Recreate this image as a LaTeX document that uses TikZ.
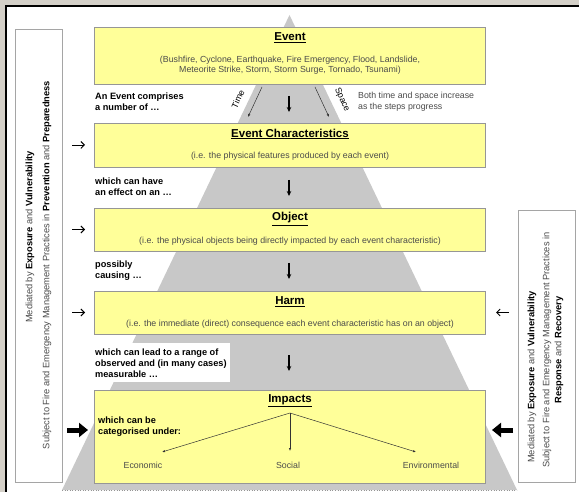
\documentclass[tikz,border=0pt]{standalone}
\usepackage{fontspec}
\setmainfont{Liberation Sans}
\usetikzlibrary{arrows.meta}
\definecolor{winbg}{RGB}{212,208,200}
\definecolor{pyrgray}{RGB}{200,200,200}
\definecolor{boxyellow}{RGB}{255,255,153}
\definecolor{boxedge}{RGB}{150,150,150}
\definecolor{sideedge}{RGB}{165,165,165}
\definecolor{softtext}{RGB}{75,75,75}
\begin{document}
\begin{tikzpicture}[x=1pt,y=-1pt,
  stage/.style={draw=boxedge, line width=0.7pt, fill=boxyellow, anchor=north west, inner sep=0pt, minimum width=391pt},
  side/.style={draw=sideedge, line width=0.7pt, fill=white, anchor=north west, inner sep=0pt},
  title/.style={font=\fontsize{11.5}{13}\selectfont\bfseries, inner sep=0pt},
  sub/.style={font=\fontsize{8.8}{10.5}\selectfont, text=softtext, align=center, inner sep=0pt},
  note/.style={font=\fontsize{9.2}{11}\selectfont\bfseries, align=left, anchor=west, inner sep=0pt},
  plain/.style={font=\fontsize{8.8}{11}\selectfont, text=softtext, inner sep=0pt},
  sidetext/.style={font=\fontsize{9.3}{10}\selectfont, text=softtext, rotate=90, inner sep=0pt},
  flow/.style={line width=1.3pt, -{Stealth[length=5pt,width=4.5pt]}},
  thinarrow/.style={line width=0.5pt, draw=black!80, -{Latex[length=3pt,width=2.4pt]}},
  sidearrow/.style={line width=0.9pt, -{Straight Barb[length=3.5pt,width=7pt]}},
  bigarrow/.style={line width=5pt, -{Triangle[length=9pt,width=14pt]}},
]
\useasboundingbox (0,0) rectangle (579,492);
% window background
\fill[winbg] (0,0) rectangle (579,492);
\fill[white] (6,6) rectangle (579,492);
\draw[line width=2pt] (6,492) -- (6,6) -- (579,6);

% pyramid
\fill[pyrgray] (289.5,15) -- (517,490) -- (62,490) -- cycle;
\draw[dotted, boxedge, line width=0.6pt] (62,490) -- (517,490);

% side panels
\node[side, minimum width=47pt, minimum height=453pt] (leftpanel) at (15,29) {};
\node[side, minimum width=57pt, minimum height=272pt] (rightpanel) at (518,210) {};

% stage boxes
\node[stage, minimum height=57pt] (event) at (94,27) {};
\node[stage, minimum height=44pt] (chars) at (94,123) {};
\node[stage, minimum height=43pt] (object) at (94,208) {};
\node[stage, minimum height=43pt] (harm) at (94,291) {};
\node[stage, minimum height=93pt] (impacts) at (94,390) {};
\node[fill=white, anchor=north west, minimum width=138pt, minimum height=39pt, inner sep=0pt] (leadbg) at (92,343) {};

% titles and subtitles
\node[title] (eventT) at (290,38) {\underline{Event}};
\node[sub] (eventS) at (290,65) {(Bushfire, Cyclone, Earthquake, Fire Emergency, Flood, Landslide,\\Meteorite Strike, Storm, Storm Surge, Tornado, Tsunami)};
\node[title] (charsT) at (290,134) {\underline{Event Characteristics}};
\node[sub] (charsS) at (290,156) {(i.e. the physical features produced by each event)};
\node[title] (objectT) at (290,219) {\underline{Object}};
\node[sub] (objectS) at (290,241) {(i.e. the physical objects being directly impacted by each event characteristic)};
\node[title] (harmT) at (290,302) {\underline{Harm}};
\node[sub] (harmS) at (290,324) {(i.e. the immediate (direct) consequence each event characteristic has on an object)};
\node[title] (impactsT) at (290,401) {\underline{Impacts}};

% notes in the gaps
\node[note] (n1) at (95,102) {An Event comprises\\a number of \dots};
\node[note] (n2) at (95,186.5) {which can have\\an effect on an \dots};
\node[note] (n3) at (95,270.5) {possibly\\causing \dots};
\node[note] (n4) at (95,363) {which can lead to a range of\\observed and (in many cases)\\measurable \dots};
\node[note] (n5) at (98,426.5) {which can be\\categorised under:};
\node[plain, anchor=west, align=left] (both) at (358,102) {Both time and space increase\\as the steps progress};

% time / space
\coordinate (time1) at (262,87); \coordinate (time2) at (248,117);
\coordinate (space1) at (315,87); \coordinate (space2) at (329,117);
\draw[thinarrow] (time1) -- (time2);
\draw[thinarrow] (space1) -- (space2);
\node[plain, text=black, rotate=65] (timeL) at (238,99) {Time};
\node[plain, text=black, rotate=-65] (spaceL) at (342,100) {Space};

% flow arrows
\coordinate (f1a) at (289,96);  \coordinate (f1b) at (289,112);
\coordinate (f2a) at (289,180); \coordinate (f2b) at (289,196);
\coordinate (f3a) at (289,263); \coordinate (f3b) at (289,279);
\coordinate (f4a) at (289,355); \coordinate (f4b) at (289,371);
\draw[flow] (f1a) -- (f1b);
\draw[flow] (f2a) -- (f2b);
\draw[flow] (f3a) -- (f3b);
\draw[flow] (f4a) -- (f4b);

% impacts categories
\coordinate (hub) at (290,413);
\coordinate (ecoEnd) at (162,452);
\coordinate (socEnd) at (290,451);
\coordinate (envEnd) at (416,452);
\node[plain] (eco) at (143,465) {Economic};
\node[plain] (soc) at (288,465) {Social};
\node[plain] (env) at (431,465) {Environmental};
\draw[thinarrow] (hub) -- (ecoEnd);
\draw[thinarrow] (hub) -- (socEnd);
\draw[thinarrow] (hub) -- (envEnd);

% side arrows
\coordinate (la1) at (72,145); \coordinate (lb1) at (85,145);
\coordinate (la2) at (72,229.5);   \coordinate (lb2) at (85,229.5);
\coordinate (la3) at (72,312.5);   \coordinate (lb3) at (85,312.5);
\coordinate (ra3) at (509,312.5);  \coordinate (rb3) at (496,312.5);
\draw[sidearrow] (la1) -- (lb1);
\draw[sidearrow] (la2) -- (lb2);
\draw[sidearrow] (la3) -- (lb3);
\draw[sidearrow] (ra3) -- (rb3);
\coordinate (bl1) at (67,430); \coordinate (bl2) at (88,430);
\coordinate (br1) at (513,430); \coordinate (br2) at (492,430);
\draw[bigarrow] (bl1) -- (bl2);
\draw[bigarrow] (br1) -- (br2);

% side texts
\node[sidetext] (lt1) at (30,237) {Mediated by \textcolor{black}{\textbf{Exposure}} and \textcolor{black}{\textbf{Vulnerability}}};
\node[sidetext] (lt2) at (47,265) {Subject to Fire and Emergency Management Practices in \textcolor{black}{\textbf{Prevention}} and \textcolor{black}{\textbf{Preparedness}}};
\node[sidetext] (rt1) at (532,377) {Mediated by \textcolor{black}{\textbf{Exposure}} and \textcolor{black}{\textbf{Vulnerability}}};
\node[sidetext] (rt2) at (547,350) {Subject to Fire and Emergency Management Practices in};
\node[sidetext] (rt3) at (559,350) {\textcolor{black}{\textbf{Response}} and \textcolor{black}{\textbf{Recovery}}};
\end{tikzpicture}
\end{document}
